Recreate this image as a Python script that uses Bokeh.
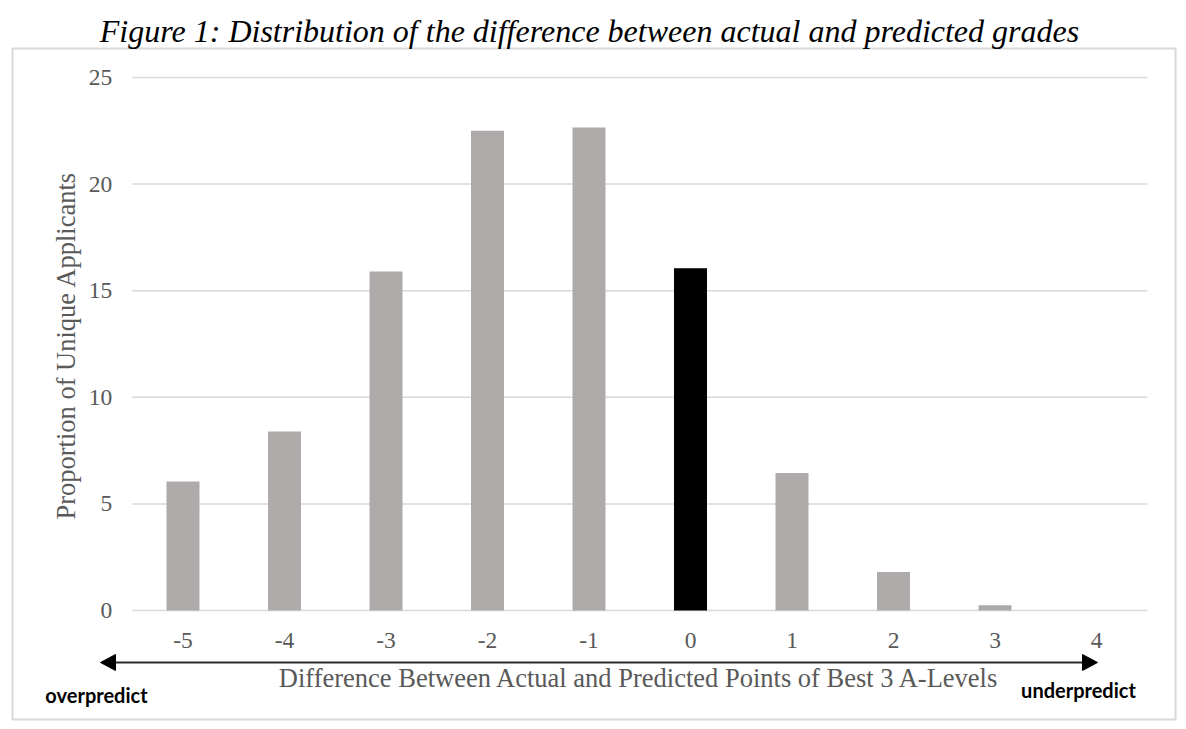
import math
from bokeh.plotting import figure
from bokeh.models import Range1d, FixedTicker
from bokeh.core.properties import value
from bokeh.embed import file_html
from bokeh.resources import INLINE

# ---- data ----
categories = ["-5", "-4", "-3", "-2", "-1", "0", "1", "2", "3", "4"]
differences = [-5, -4, -3, -2, -1, 0, 1, 2, 3, 4]
proportions = [6.05, 8.4, 15.9, 22.5, 22.65, 16.05, 6.45, 1.8, 0.25, 0.0]
bar_colors = ["#AEAAAA"] * 5 + ["#000000"] + ["#AEAAAA"] * 4
y_ticks = [0, 5, 10, 15, 20, 25]
title_text = "Figure 1: Distribution of the difference between actual and predicted grades"
x_label = "Difference Between Actual and Predicted Points of Best 3 A-Levels"
y_label = "Proportion of Unique Applicants"
left_note = "overpredict"
right_note = "underpredict"

# ---- layout (frame covers the whole canvas) ----
W, H = 1180, 722
X0_PX, XU = 182.5, 101.5      # pixel of first category, pixels per category
Y0_PX, Y25_PX = 610.0, 77.0   # pixel rows of y=0 and y=25
YU = (Y0_PX - Y25_PX) / 25.0
x_start = differences[0] - X0_PX / XU
y_start = -(H - Y0_PX) / YU

SERIF = "Liberation Serif"
TXT = "#595959"
GRID = "#D9D9D9"


def dx(px):
    return x_start + px / XU


def dy(py):
    return y_start + (H - py) / YU


p = figure(width=W, height=H, title=None,
           x_range=Range1d(x_start, x_start + W / XU),
           y_range=Range1d(y_start, y_start + H / YU),
           output_backend="svg", toolbar_location=None,
           min_border=0, min_border_left=0, min_border_right=0,
           min_border_top=0, min_border_bottom=0)
p.outline_line_color = None
p.background_fill_color = "white"
p.border_fill_color = "white"
p.xgrid.grid_line_color = None
p.ygrid.grid_line_color = None

# outer light frame box
p.quad(left=[dx(12)], right=[dx(1175)], top=[dy(48)], bottom=[dy(719)],
       fill_color=None, line_color=GRID, line_width=2)

# horizontal gridlines spanning the category area
half = 0.5
p.segment(x0=[differences[0] - half] * len(y_ticks), x1=[differences[-1] + half] * len(y_ticks),
          y0=y_ticks, y1=y_ticks, line_color=GRID, line_width=1.5)

# bars
p.vbar(x=differences, top=proportions, width=0.325, color=bar_colors, line_color=None)

# axes drawn at fixed locations inside the frame
p.xaxis.ticker = FixedTicker(ticks=differences)
p.xaxis.major_label_overrides = {d: c for d, c in zip(differences, categories)}
p.yaxis.ticker = FixedTicker(ticks=y_ticks)
p.xaxis.fixed_location = 0
p.yaxis.fixed_location = differences[0] - half
for ax in (p.xaxis[0], p.yaxis[0]):
    ax.axis_line_color = None
    ax.major_tick_line_color = None
    ax.minor_tick_line_color = None
    ax.major_tick_out = 0
    ax.major_tick_in = 0
    ax.minor_tick_out = 0
    ax.major_label_text_font = SERIF
    ax.major_label_text_font_size = "23.5px"
    ax.major_label_text_color = TXT
p.yaxis.major_label_standoff = 20
p.xaxis.major_label_standoff = 22

# title and axis titles
p.text(x=[dx(589)], y=[dy(30)], text=[title_text], text_font=value(SERIF),
       text_font_style="italic", text_font_size="32px", text_color="black",
       text_align="center", text_baseline="middle")
p.text(x=[dx(639)], y=[dy(677)], text=[x_label], text_font=value(SERIF),
       text_font_size="26.5px", text_color=TXT,
       text_align="center", text_baseline="middle")
p.text(x=[dx(65)], y=[dy(345)], text=[y_label], text_font=value(SERIF),
       text_font_size="26.5px", text_color=TXT, angle=math.pi / 2,
       text_align="center", text_baseline="middle")

# double-headed arrow
ay, hl, hh = 662, 15, 8
lx, rx = 100, 1097
p.segment(x0=[dx(lx + hl - 1)], x1=[dx(rx - hl + 1)], y0=[dy(ay)], y1=[dy(ay)],
          line_color="#2a2a2a", line_width=2)
p.patch(x=[dx(lx), dx(lx + hl), dx(lx + hl)], y=[dy(ay), dy(ay - hh), dy(ay + hh)],
        fill_color="black", line_color="black", line_width=1)
p.patch(x=[dx(rx), dx(rx - hl), dx(rx - hl)], y=[dy(ay), dy(ay - hh), dy(ay + hh)],
        fill_color="black", line_color="black", line_width=1)

# direction notes
p.text(x=[dx(96)], y=[dy(694)], text=[left_note], text_font=value("Lato"),
       text_font_style="bold", text_font_size="20px", text_color="black",
       text_align="center", text_baseline="middle")
p.text(x=[dx(1078)], y=[dy(689)], text=[right_note], text_font=value("Lato"),
       text_font_style="bold", text_font_size="20px", text_color="black",
       text_align="center", text_baseline="middle")

open("out.html", "w").write(file_html(p, INLINE))
